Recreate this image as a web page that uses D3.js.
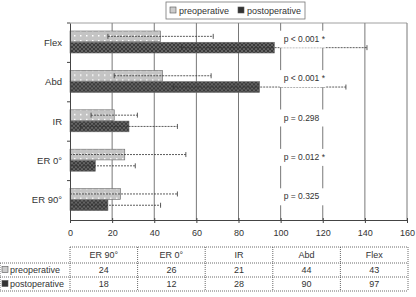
<!DOCTYPE html>
<html>
<head>
<meta charset="utf-8">
<script src="https://cdn.jsdelivr.net/npm/d3@7"></script>
<style>
  body { margin: 0; background: #fff; }
  svg { display: block; font-family: "Liberation Sans", Arial, sans-serif; }
  text { fill: #333; }
</style>
</head>
<body>
<div id="chart"></div>
<script>
// chart data (top to bottom in the plot)
const categories = ["Flex", "Abd", "IR", "ER 0°", "ER 90°"];
const preValues = [43, 44, 21, 26, 24];
const postValues = [97, 90, 28, 12, 18];
const preSD = [25, 23, 11, 29, 27];
const postSD = [44, 41, 23, 19, 25];
const pLabels = ["p < 0.001 *", "p < 0.001 *", "p = 0.298", "p = 0.012 *", "p = 0.325"];
const xTicks = [0, 20, 40, 60, 80, 100, 120, 140, 160];
const seriesNames = ["preoperative", "postoperative"];
// table runs in the opposite order
const tableCats = categories.slice().reverse();

const width = 416, height = 297;
const plot = { left: 70, right: 407, top: 23, bottom: 220 };

const svg = d3.select("#chart").append("svg")
    .attr("width", width)
    .attr("height", height);

// fill patterns
const defs = svg.append("defs");
let pPre = defs.append("pattern")
    .attr("id", "pre").attr("patternUnits", "userSpaceOnUse")
    .attr("width", 6).attr("height", 5);
pPre.append("rect").attr("width", 6).attr("height", 5).attr("fill", "#c4c4c4");
pPre.append("rect").attr("x", 2).attr("y", 2).attr("width", 1.5).attr("height", 1.5).attr("fill", "#fff");

let pPost = defs.append("pattern")
    .attr("id", "post").attr("patternUnits", "userSpaceOnUse")
    .attr("width", 4).attr("height", 4);
pPost.append("rect").attr("width", 4).attr("height", 4).attr("fill", "#3a3a3a");
pPost.append("path").attr("d", "M0,2 L2,0 L4,2 L2,4 Z")
    .attr("fill", "none").attr("stroke", "#6e6e6e").attr("stroke-width", 0.8);

const fills = ["url(#pre)", "url(#post)"];

const x = d3.scaleLinear().domain([0, 160]).range([plot.left, plot.right]);
const y = d3.scaleBand().domain(categories).range([plot.top, plot.bottom]);
const ySub = d3.scaleBand().domain([0, 1]).range([8, 30]).paddingInner(0.05);

// gridlines
svg.append("g")
    .selectAll("line")
    .data(xTicks.slice(1))
    .join("line")
    .attr("x1", d => x(d)).attr("x2", d => x(d))
    .attr("y1", plot.top).attr("y2", plot.bottom)
    .attr("stroke", "#555").attr("stroke-width", 0.8);

// top border
svg.append("line")
    .attr("x1", plot.left).attr("x2", plot.right)
    .attr("y1", plot.top).attr("y2", plot.top)
    .attr("stroke", "#888").attr("stroke-width", 0.8);

// bars
const rows = categories.map((c, i) => ({
    cat: c,
    vals: [preValues[i], postValues[i]],
    sds: [preSD[i], postSD[i]],
    p: pLabels[i]
}));

const groups = svg.append("g").selectAll("g")
    .data(rows)
    .join("g")
    .attr("transform", d => `translate(0,${y(d.cat)})`);

groups.selectAll("rect")
    .data(d => d.vals.map((v, k) => ({ v, k })))
    .join("rect")
    .attr("x", x(0))
    .attr("y", d => ySub(d.k))
    .attr("width", d => x(d.v) - x(0))
    .attr("height", ySub.bandwidth())
    .attr("fill", d => fills[d.k])
    .attr("stroke", "#666").attr("stroke-width", 0.6);

// error bars
const err = groups.selectAll("g.err")
    .data(d => d.vals.map((v, k) => ({ v, k, sd: d.sds[k] })))
    .join("g")
    .attr("class", "err");

err.append("line")
    .attr("x1", d => x(Math.max(0, d.v - d.sd)))
    .attr("x2", d => x(d.v + d.sd))
    .attr("y1", d => ySub(d.k) + ySub.bandwidth() / 2)
    .attr("y2", d => ySub(d.k) + ySub.bandwidth() / 2)
    .attr("stroke", "#333").attr("stroke-width", 0.8)
    .style("stroke-dasharray", "2,1");

err.append("line")
    .attr("x1", d => x(d.v + d.sd)).attr("x2", d => x(d.v + d.sd))
    .attr("y1", d => ySub(d.k) + ySub.bandwidth() / 2 - 2.5)
    .attr("y2", d => ySub(d.k) + ySub.bandwidth() / 2 + 2.5)
    .attr("stroke", "#333").attr("stroke-width", 0.8);

err.filter(d => d.v - d.sd > 0).append("line")
    .attr("x1", d => x(d.v - d.sd)).attr("x2", d => x(d.v - d.sd))
    .attr("y1", d => ySub(d.k) + ySub.bandwidth() / 2 - 2.5)
    .attr("y2", d => ySub(d.k) + ySub.bandwidth() / 2 + 2.5)
    .attr("stroke", "#333").attr("stroke-width", 0.8);

// p value labels with white box
const pg = groups.append("g")
    .attr("transform", d => `translate(${x(100) + 3},${y.bandwidth() / 2 - 4})`);
pg.append("rect")
    .attr("x", -4).attr("y", -8)
    .attr("width", 46).attr("height", 17)
    .attr("fill", "#fff");
pg.append("text")
    .attr("y", 3)
    .style("font-size", "8.5px")
    .text(d => d.p);

// axes
const xAxis = d3.axisBottom(x).tickValues(xTicks).tickSize(3).tickSizeOuter(0);
const gx = svg.append("g")
    .attr("transform", `translate(0,${plot.bottom})`)
    .call(xAxis);
gx.select(".domain").attr("stroke", "#444");
gx.selectAll(".tick line").attr("stroke", "#444").attr("y1", -2);
gx.selectAll(".tick text")
    .attr("y", 10)
    .style("font-size", "9px")
    .style("font-family", "Liberation Sans, Arial, sans-serif")
    .attr("fill", "#333");

const gy = svg.append("g")
    .attr("transform", `translate(${plot.left},0)`)
    .call(d3.axisLeft(y).tickSize(0).tickPadding(8));
gy.select(".domain").attr("stroke", "#444");
gy.selectAll(".tick text")
    .style("font-size", "9.5px")
    .style("font-family", "Liberation Sans, Arial, sans-serif")
    .attr("fill", "#333");
// category boundary ticks
svg.append("g").selectAll("line")
    .data(categories)
    .join("line")
    .attr("x1", plot.left - 3).attr("x2", plot.left)
    .attr("y1", d => y(d)).attr("y2", d => y(d))
    .attr("stroke", "#444");

// legend
const legend = svg.append("g").attr("transform", "translate(166,2)");
legend.append("rect")
    .attr("width", 139).attr("height", 17)
    .attr("fill", "#fff").attr("stroke", "#777").attr("stroke-width", 0.8);
const legItems = legend.selectAll("g")
    .data(seriesNames)
    .join("g")
    .attr("transform", (d, i) => `translate(${4 + i * 68},5)`);
legItems.append("rect")
    .attr("width", 6).attr("height", 6)
    .attr("fill", (d, i) => i === 0 ? "#ccc" : "#333")
    .attr("stroke", "#555").attr("stroke-width", 0.6);
legItems.append("text")
    .attr("x", 9).attr("y", 6.5)
    .style("font-size", "9px")
    .text(d => d);

// data table
const tx = d3.scaleBand().domain(tableCats).range([70, 408]);
const tRows = [247, 263, 277, 291];
const table = svg.append("g");
const lineStyle = sel => sel.attr("stroke", "#444").attr("stroke-width", 0.8).style("stroke-dasharray", "1,1");

// horizontal lines
table.selectAll("line.h")
    .data(tRows)
    .join("line")
    .attr("class", "h")
    .attr("x1", (d, i) => i === 0 ? 70 : 0).attr("x2", 408)
    .attr("y1", d => d).attr("y2", d => d)
    .call(lineStyle);
// vertical lines
table.selectAll("line.v")
    .data(tableCats.map(c => tx(c)).concat([408]))
    .join("line")
    .attr("class", "v")
    .attr("x1", d => d).attr("x2", d => d)
    .attr("y1", tRows[0]).attr("y2", tRows[3])
    .call(lineStyle);
table.append("line")
    .attr("x1", 0).attr("x2", 0)
    .attr("y1", tRows[1]).attr("y2", tRows[3])
    .call(lineStyle);

table.selectAll("text.head")
    .data(tableCats)
    .join("text")
    .attr("class", "head")
    .attr("x", d => tx(d) + tx.bandwidth() / 2)
    .attr("y", 258)
    .attr("text-anchor", "middle")
    .style("font-size", "9px")
    .text(d => d);

const tableVals = [preValues.slice().reverse(), postValues.slice().reverse()];
tableVals.forEach((vals, r) => {
    const yy = (tRows[r + 1] + tRows[r + 2]) / 2 + 3;
    table.append("rect")
        .attr("x", 2).attr("y", yy - 6.5)
        .attr("width", 6).attr("height", 6)
        .attr("fill", r === 0 ? "#ccc" : "#333")
        .attr("stroke", "#555").attr("stroke-width", 0.6);
    table.append("text")
        .attr("x", 10).attr("y", yy)
        .style("font-size", "9px")
        .text(seriesNames[r]);
    table.selectAll("text.v" + r)
        .data(vals)
        .join("text")
        .attr("class", "v" + r)
        .attr("x", (d, i) => tx(tableCats[i]) + tx.bandwidth() / 2)
        .attr("y", yy)
        .attr("text-anchor", "middle")
        .style("font-size", "9px")
        .text(d => d);
});
</script>
</body>
</html>
